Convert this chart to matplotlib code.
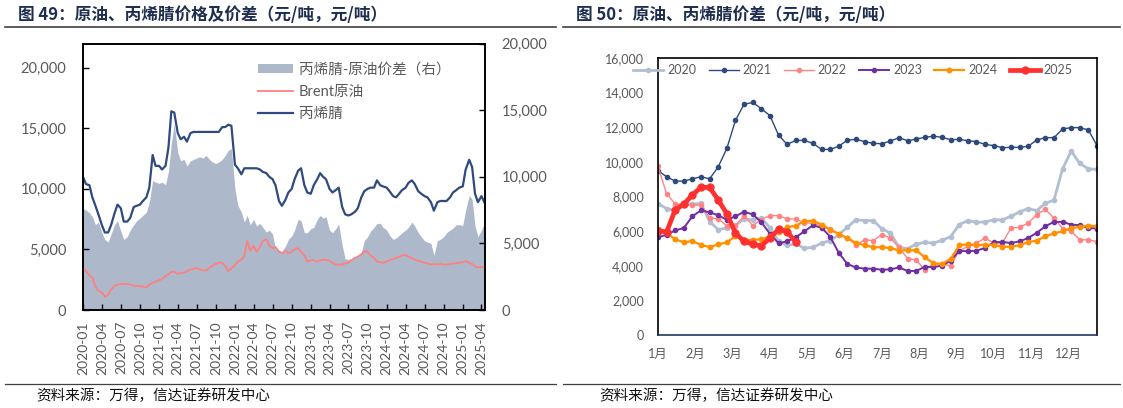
import matplotlib
matplotlib.use('Agg')
import matplotlib.pyplot as plt
import matplotlib.dates as mdates
import matplotlib.ticker as mticker
from matplotlib.lines import Line2D
from matplotlib.patches import Patch
import pandas as pd
import numpy as np

plt.rcParams['font.family'] = ['Lato', 'Noto Sans CJK SC', 'DejaVu Sans']

# ---------------- left chart data (semi-monthly readings) ----------------
dates = pd.date_range('2020-01-01', '2025-04-15', freq='SMS')

acn = [11000, 10400, 10300, 9300, 8600, 7900, 7000, 6400,
       6400, 7000, 8000, 8700, 8400, 7300, 7300, 7600,
       8500, 8600, 8700, 9000, 9300, 10100, 12800, 11900,
       11900, 11600, 11900, 13400, 16400, 16300, 14600, 14100,
       14300, 13900, 14600, 14700, 14700, 14700, 14700, 14700,
       14700, 14700, 14700, 14700, 15100, 15100, 15300, 15200,
       12000, 11700, 11200, 11700, 11700, 11700, 11700, 11700,
       11600, 11400, 11300, 11000, 10800, 10300, 9000, 8600,
       9100, 9700, 10000, 10800, 11500, 11700, 10300, 9700,
       9600, 10300, 10800, 11300, 11000, 10800, 10000, 9700,
       9900, 10100, 8500, 7900, 7800, 7900, 8100, 8400,
       9300, 9800, 10000, 10100, 10100, 10700, 10300, 10200,
       10100, 9800, 9400, 9300, 9600, 9900, 10100, 10500,
       10700, 10400, 9800, 9600, 9400, 9300, 8900, 8200,
       8900, 9000, 9000, 9000, 9300, 9700, 9900, 10100,
       10200, 11600, 12400, 11800, 9600, 8900, 9400, 8900]

brent = [3400, 3250, 2850, 2700, 1900, 1600, 1450, 1100,
         1250, 1700, 2000, 2100, 2150, 2150, 2150, 2100,
         2000, 2000, 1950, 1950, 1850, 2100, 2250, 2350,
         2450, 2550, 2800, 2950, 3150, 3150, 3000, 3050,
         3100, 3200, 3350, 3400, 3450, 3350, 3300, 3250,
         3500, 3650, 3800, 3900, 3900, 3650, 3200, 3450,
         3700, 4000, 4150, 4450, 5700, 4900, 5300, 4800,
         5200, 5700, 5850, 5300, 5100, 5200, 4800, 4700,
         4900, 4700, 4800, 5000, 5100, 4800, 4500, 4000,
         4100, 4100, 4000, 4100, 4150, 4150, 4050, 3900,
         3750, 3750, 3750, 3850, 3900, 4100, 4300, 4400,
         4600, 4850, 4800, 4500, 4300, 4000, 3950, 3900,
         4000, 4100, 4200, 4300, 4400, 4500, 4550, 4400,
         4300, 4150, 4050, 4000, 3900, 3850, 3750, 3800,
         3750, 3800, 3750, 3750, 3800, 3850, 3850, 3900,
         3950, 4050, 3900, 3800, 3600, 3500, 3550, 3550]

spread = [7600, 7500, 7300, 7000, 6400, 6600, 5800, 5300,
          5100, 5700, 6400, 6700, 5900, 5300, 5500, 6000,
          6400, 6700, 6900, 7100, 7350, 8100, 9700, 9600,
          9500, 9600, 9400, 10400, 12500, 14000, 11800, 11200,
          11300, 10800, 11200, 11300, 11400, 11500, 11400, 11600,
          11300, 11100, 11000, 11100, 11300, 11600, 12000, 12100,
          9100, 7850, 7350, 6600, 7100, 6400, 6800, 6300,
          6500, 6200, 5850, 6000, 5700, 4600, 4500, 4350,
          4800, 5300, 5550, 6000, 6800, 6700, 5800, 5800,
          6100, 6200, 6800, 7100, 6900, 7000, 6000, 5800,
          6100, 6450, 4850, 3850, 3800, 3850, 3900, 4000,
          4300, 5200, 5500, 5900, 6200, 6500, 6500, 6200,
          6000, 5600, 5300, 5400, 5600, 5800, 6000, 6200,
          6600, 6300, 5800, 5500, 5200, 5100, 5000, 4100,
          5200, 5300, 5500, 5800, 6000, 6150, 6400, 6400,
          6350, 7500, 8600, 8300, 6300, 5500, 6000, 6500]

left_labels = ['丙烯腈-原油价差（右）', 'Brent原油', '丙烯腈']

# ---------------- right chart data (weekly spread by year) ----------------
y2020 = [7590, 7300, 7190, 7530, 7570, 7600, 6550, 6090, 6180, 6340,
         6700, 6650, 6760, 6200, 5410, 5180, 5250, 5020, 5060, 5310,
         5450, 5800, 6220, 6660, 6610, 6610, 6140, 5890, 5060, 4990,
         5250, 5350, 5310, 5470, 5680, 6380, 6610, 6510, 6530, 6650,
         6650, 6860, 7110, 7300, 7190, 7610, 7790, 9600, 10620, 9910,
         9600, 9560]
y2021 = [9500, 9140, 8890, 8890, 9020, 9140, 9020, 9720, 10780, 12400,
         13330, 13430, 13080, 12670, 11550, 11010, 11240, 11240, 11070, 10720,
         10720, 10900, 11260, 11300, 11170, 11070, 11050, 11200, 11400, 11220,
         11320, 11420, 11480, 11420, 11280, 11300, 11220, 11170, 11010, 10940,
         10820, 10840, 10840, 10900, 11260, 11400, 11400, 11900, 11980, 11980,
         11840, 10940]
y2022 = [9750, 8150, 7570, 7540, 7500, 7500, 6750, 6720, 6300, 6300,
         6900, 6320, 6670, 6900, 6900, 6700, 6700, 6480, 6450, 6300,
         6100, 5800, 5600, 5200, 5500, 5450, 5800, 5600, 5060, 4400,
         4350, 3730, 4100, 4100, 4000, 4870, 5120, 5310, 5600, 5310,
         5310, 6180, 6220, 6470, 6950, 7250, 6760, 6150, 5990, 5500,
         5500, 5400]
y2023 = [5650, 5780, 6040, 6180, 6860, 7200, 7090, 6910, 6650, 6860,
         7110, 6970, 6520, 5850, 5300, 5410, 5640, 5990, 6330, 6200,
         5680, 4750, 4100, 3900, 3830, 3830, 3770, 3790, 3900, 3700,
         3700, 3940, 3930, 4000, 4300, 4870, 4830, 4870, 5030, 5350,
         5380, 5310, 5410, 5600, 5900, 6280, 6540, 6530, 6380, 6340,
         6180, 6150]
y2024 = [6150, 5900, 5520, 5360, 5420, 5200, 5080, 5230, 5360, 5700,
         5480, 5500, 5520, 5700, 5950, 6220, 6320, 6560, 6600, 6380,
         6090, 5840, 5600, 5320, 5180, 5080, 5060, 5030, 4880, 4900,
         4890, 4480, 4150, 4100, 4400, 5180, 5250, 5180, 5220, 5200,
         5100, 5100, 5180, 5370, 5450, 5700, 5870, 5990, 6180, 6240,
         6320, 6280]
y2025 = [6020, 5950, 7230, 7550, 8100, 8530, 8520, 7800, 7000, 5890,
         5410, 5250, 5150, 5600, 6100, 5970, 5370]

years = ['2020', '2021', '2022', '2023', '2024', '2025']
month_labels = ['1月', '2月', '3月', '4月', '5月', '6月',
                '7月', '8月', '9月', '10月', '11月', '12月']

# ---------------- figure ----------------
W, H = 1123, 408
fig = plt.figure(figsize=(W / 100, H / 100), dpi=100)
GRAY = '#595959'
CJK = ['Noto Sans CJK SC', 'DejaVu Sans']
comma = mticker.StrMethodFormatter('{x:,.0f}')

# titles and rules
fig.text(18 / W, 1 - 15 / H, '图 49：原油、丙烯腈价格及价差（元/吨，元/吨）',
         fontsize=12, fontweight='bold', color='#1F2D4F', va='center', ha='left', family=CJK)
fig.text(576 / W, 1 - 15 / H, '图 50：原油、丙烯腈价差（元/吨，元/吨）',
         fontsize=12, fontweight='bold', color='#1F2D4F', va='center', ha='left', family=CJK)
for x0, x1 in [(5, 556), (563, 1120)]:
    fig.add_artist(Line2D([x0 / W, x1 / W], [1 - 27 / H] * 2, color='#404040', lw=1.2))
    fig.add_artist(Line2D([x0 / W, x1 / W], [1 - 384 / H] * 2, color='#404040', lw=0.9))
fig.text(36 / W, 1 - 396 / H, '资料来源：万得，信达证券研发中心', fontsize=10.5,
         va='center', ha='left', family=CJK, color='#111111')
fig.text(599 / W, 1 - 396 / H, '资料来源：万得，信达证券研发中心', fontsize=10.5,
         va='center', ha='left', family=CJK, color='#111111')

# ---------------- left chart ----------------
ax1 = fig.add_axes([83 / W, 1 - 310 / H, 402 / W, 266.5 / H])
ax1r = ax1.twinx()
ax1r.fill_between(dates, spread, 0, color='#ADB9CA', lw=0)
ax1.plot(dates, brent, color='#FF7F7F', lw=1.3)
ax1.plot(dates, acn, color='#2F4A7E', lw=1.6)
ax1.set_zorder(ax1r.get_zorder() + 1)
ax1.patch.set_visible(False)

ax1.set_xlim(pd.Timestamp('2020-01-01'), pd.Timestamp('2025-04-18'))
ax1.set_ylim(0, 22000)
ax1r.set_ylim(0, 20000)
ax1.set_yticks([0, 5000, 10000, 15000, 20000])
ax1r.set_yticks([0, 5000, 10000, 15000, 20000])
ax1.yaxis.set_major_formatter(comma)
ax1r.yaxis.set_major_formatter(comma)
ax1.xaxis.set_major_locator(mdates.MonthLocator(bymonth=(1, 4, 7, 10)))
ax1.xaxis.set_major_formatter(mdates.DateFormatter('%Y-%m'))
ax1.tick_params(axis='y', direction='in', length=4, width=1, labelsize=10.5,
                labelcolor=GRAY, pad=12)
ax1r.tick_params(axis='y', direction='in', length=4, width=1, labelsize=10.5,
                 labelcolor=GRAY, pad=12)
ax1.tick_params(axis='x', direction='in', length=4, width=1, labelsize=10,
                labelcolor=GRAY, pad=8)
plt.setp(ax1.get_xticklabels(), rotation=90, ha='center', va='top')
for a in (ax1, ax1r):
    for s in a.spines.values():
        s.set_color('black')
        s.set_linewidth(1.2)

h_left = [Patch(facecolor='#ADB9CA', edgecolor='none'),
          Line2D([], [], color='#FF7F7F', lw=1.3),
          Line2D([], [], color='#2F4A7E', lw=1.6)]
fig.legend(h_left, left_labels, loc='upper left', bbox_to_anchor=(258 / W, 1 - 63 / H),
           frameon=False, fontsize=10.5, handlelength=2.4, handleheight=0.55,
           handletextpad=0.4, labelspacing=0.55, borderpad=0, borderaxespad=0,
           labelcolor=GRAY)

# ---------------- right chart ----------------
ax2 = fig.add_axes([658 / W, 1 - 335 / H, 439 / W, 277 / H])
styles = [
    (y2020, '#B2BFD2', 2.0, 3.0),
    (y2021, '#2E4A7D', 1.0, 3.0),
    (y2022, '#FF8585', 1.0, 3.0),
    (y2023, '#7030A0', 1.4, 3.0),
    (y2024, '#FF9000', 1.6, 3.2),
    (y2025, '#FF3030', 3.4, 5.0),
]
handles = []
for (vals, col, lw, ms), lab in zip(styles, years):
    ln, = ax2.plot(np.arange(len(vals)), vals, color=col, lw=lw, marker='o',
                   ms=ms, mec=col, mfc=col, label=lab)
    handles.append(ln)
ax2.set_xlim(0, 51)
ax2.set_ylim(0, 16000)
ax2.set_yticks(range(0, 16001, 2000))
ax2.yaxis.set_major_formatter(comma)
ax2.set_xticks([i * 52 / 12 for i in range(12)])
ax2.set_xticklabels(month_labels)
ax2.tick_params(axis='y', length=0, labelsize=9, labelcolor=GRAY, pad=10)
ax2.tick_params(axis='x', length=0, labelsize=9, labelcolor=GRAY, pad=9)
for s in ax2.spines.values():
    s.set_color('black')
    s.set_linewidth(1.2)
ax2.spines['bottom'].set_color('#1F3864')

fig.legend(handles, years, loc='center', bbox_to_anchor=(853 / W, 1 - 70 / H), ncol=6,
           frameon=False, fontsize=9, handlelength=2.4, columnspacing=1.0,
           handletextpad=0.3, borderpad=0, labelcolor=GRAY)

fig.savefig('out.png', dpi=100)
